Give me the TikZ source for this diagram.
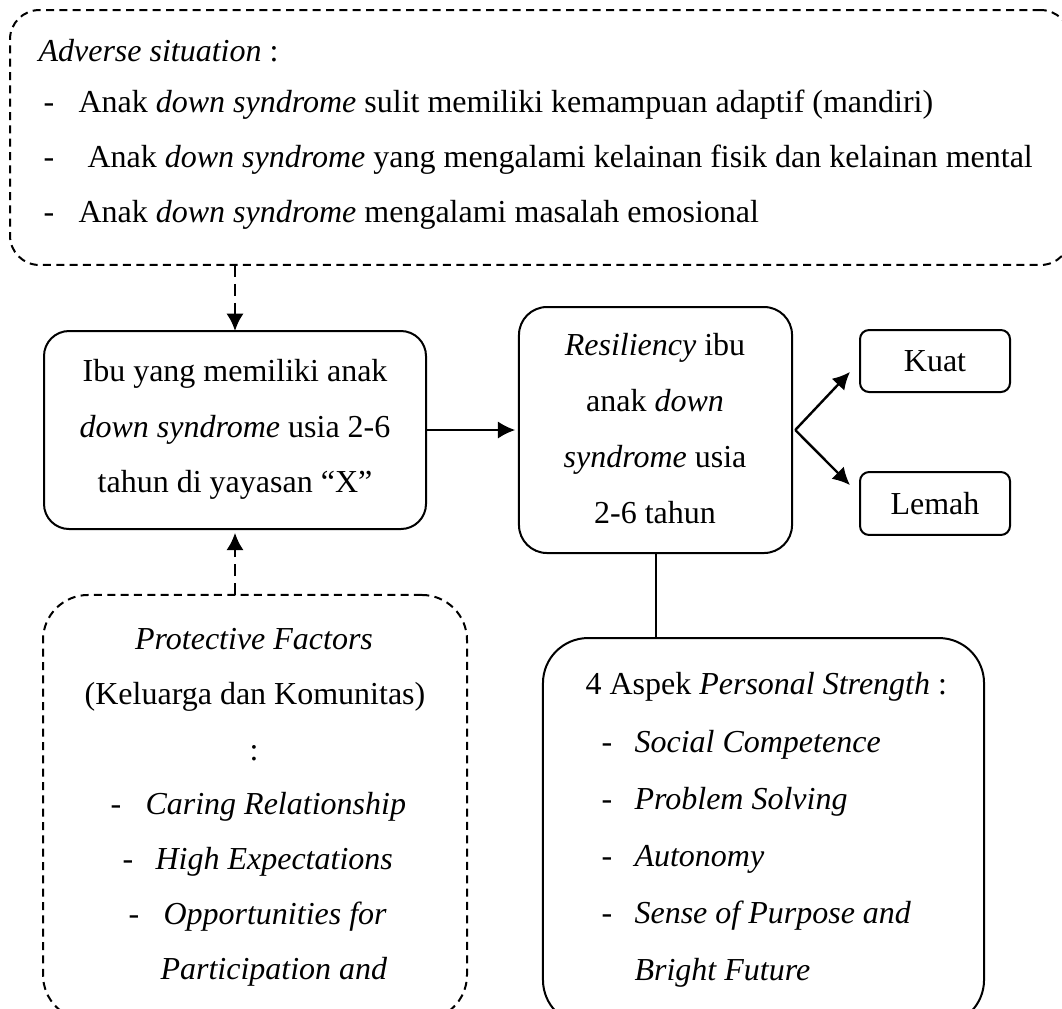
\documentclass[tikz,border=0pt]{standalone}
\usepackage{fontspec}
\setmainfont{Liberation Serif}
\usetikzlibrary{arrows.meta}
\begin{document}
\begin{tikzpicture}[x=0.375pt, y=-0.375pt, font=\fontsize{12}{20.6}\selectfont,
  box/.style={draw, line width=0.75pt, inner sep=0pt, outer sep=0pt},
  dbox/.style={draw, line width=0.75pt, dash pattern=on 3pt off 2pt, inner sep=0pt, outer sep=0pt},
  arr/.style={line width=0.9pt, -{Latex[length=6.5pt,width=6.5pt]}},
  darr/.style={line width=1.1pt, dash pattern=on 4.5pt off 2.6pt, -{Latex[length=6.5pt,width=6.5pt]}},
  txt/.style={inner sep=0pt, anchor=base west},
  ctxt/.style={inner sep=0pt, anchor=base},
]
\useasboundingbox (0,0) rectangle (1062,1008);
\clip (0,0) rectangle (1062,1008);

% boxes
\node[dbox, rounded corners=11pt, minimum width=397.5pt, minimum height=95.6pt] (adv) at (540,137.5) {};
\node[box, rounded corners=9.4pt, minimum width=143.25pt, minimum height=74.25pt] (ibu) at (235,430) {};
\node[box, rounded corners=10.5pt, minimum width=102.4pt, minimum height=92.25pt] (res) at (655.5,430) {};
\node[box, rounded corners=3.4pt, minimum width=56.25pt, minimum height=23.25pt] (kuat) at (935,361) {Kuat};
\node[box, rounded corners=3.4pt, minimum width=56.25pt, minimum height=23.6pt] (lemah) at (935,503.5) {Lemah};
\node[dbox, rounded corners=16.9pt, minimum width=159pt, minimum height=159.4pt] (prot) at (255,807.5) {};
\node[box, rounded corners=16.9pt, minimum width=165.4pt, minimum height=145.1pt] (asp) at (763.5,831.5) {};

% connectors
\draw[darr] (ibu.north |- adv.south) -- (ibu.north);
\draw[darr, shorten >=1.4pt] (ibu.south |- prot.north) -- (ibu.south);
\draw[arr, shorten >=1.4pt] (ibu.east) -- (res.west);
\coordinate (br) at ([xshift=1.2pt]res.east);
\draw[arr] (br) -- ([xshift=-3.75pt,yshift=-4.1pt]kuat.west);
\draw[arr] (br) -- ([xshift=-3.75pt,yshift=6.9pt]lemah.west);
\draw[line width=0.75pt] (res.south) -- (res.south |- asp.north);

% adverse text
\node[txt] (advT) at (38,61) {\textit{Adverse situation} :};
\node[txt] (ad1) at (43,112) {-};
\node[txt] (at1) at (78,112) {Anak \textit{down syndrome} sulit memiliki kemampuan adaptif (mandiri)};
\node[txt] (ad2) at (43,167) {-};
\node[txt] (at2) at (87,167) {Anak \textit{down syndrome} yang mengalami kelainan fisik dan kelainan mental};
\node[txt] (ad3) at (43,222) {-};
\node[txt] (at3) at (78,222) {Anak \textit{down syndrome} mengalami masalah emosional};

% ibu text
\node[ctxt] (ib1) at (235,381) {Ibu yang memiliki anak};
\node[ctxt] (ib2) at (235,437) {\textit{down syndrome} usia 2-6};
\node[ctxt] (ib3) at (235,492) {tahun di yayasan “X”};

% resiliency text
\node[ctxt] (rs1) at (655,355) {\textit{Resiliency} ibu};
\node[ctxt] (rs2) at (655,411) {anak \textit{down}};
\node[ctxt] (rs3) at (655,467) {\textit{syndrome} usia};
\node[ctxt] (rs4) at (655,523) {2-6 tahun};

% protective text
\node[ctxt] (pf1) at (254,649) {\textit{Protective Factors}};
\node[ctxt] (pf2) at (255,704) {(Keluarga dan Komunitas)};
\node[ctxt] (pf3) at (254,760) {:};
\node[txt] (pd1) at (110,814) {-};
\node[txt] (pt1) at (145,814) {\textit{Caring Relationship}};
\node[txt] (pd2) at (122,869) {-};
\node[txt] (pt2) at (155,869) {\textit{High Expectations}};
\node[txt] (pd3) at (128,924) {-};
\node[txt] (pt3) at (163,924) {\textit{Opportunities for}};
\node[txt] (pt4) at (160,979) {\textit{Participation and}};

% aspek text
\node[txt] (as0) at (585,694) {4 Aspek \textit{Personal Strength} :};
\node[txt] (sd1) at (601,752) {-};
\node[txt] (st1) at (634,752) {\textit{Social Competence}};
\node[txt] (sd2) at (601,809) {-};
\node[txt] (st2) at (634,809) {\textit{Problem Solving}};
\node[txt] (sd3) at (601,866) {-};
\node[txt] (st3) at (634,866) {\textit{Autonomy}};
\node[txt] (sd4) at (601,923) {-};
\node[txt] (st4) at (634,923) {\textit{Sense of Purpose and}};
\node[txt] (st5) at (634,980) {\textit{Bright Future}};
\end{tikzpicture}
\end{document}
